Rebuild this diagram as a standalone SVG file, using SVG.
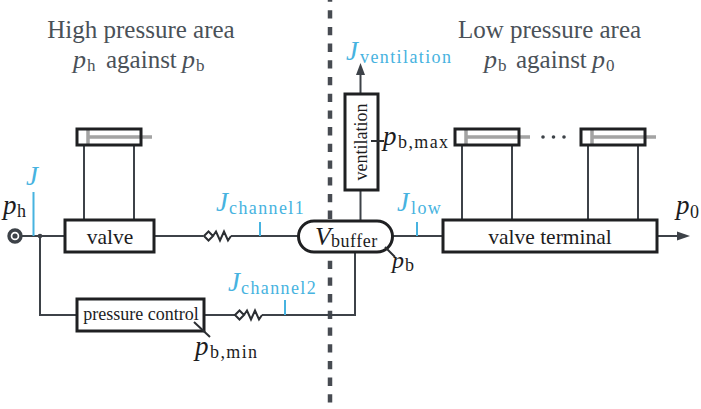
<svg xmlns="http://www.w3.org/2000/svg" width="701" height="409" viewBox="0 0 701 409">
<style>
text{font-family:"Liberation Serif","Times New Roman",serif;fill:#1c1c1e}
.head{font-size:25px;fill:#4a5158;text-anchor:middle}
.headm{font-size:26px;fill:#4a5158;font-style:italic}
.heads{font-size:17px;fill:#4a5158}
.heada{font-size:25px;fill:#4a5158}
.lab{font-size:21.500px}
.m{font-style:italic;font-size:27px}
.sub{font-size:18px;letter-spacing:1.400px}
.blue{fill:#47b3e0}
.box{fill:#fff;stroke:#1f2022;stroke-width:3}
.cyl{fill:none;stroke:#1f2022;stroke-width:3}
.line{fill:none;stroke:#3d4248;stroke-width:2}
.tick{fill:none;stroke:#47b3e0;stroke-width:2}
.rod{fill:none;stroke:#a3a3a3;stroke-width:3.500}
.spring{fill:none;stroke:#2c2f33;stroke-width:2}
.head-arrow{fill:#3d4248}
</style>
<defs>
<g id="cylinder">
<path class="rod" d="M11 0V16M11 8H75"/>
<rect class="cyl" x="0" y="0" width="64" height="16"/>
</g>
<path id="throttle" class="spring" d="M0 0L4.500 -4.500L9 0L4.500 4.500ZM9 0L12 -4.500L16 4.500L20 -4.500L24 4.500L27 0"/>
</defs>

<g id="divider"><line x1="330" y1="0" x2="330" y2="409" stroke="#474b52" stroke-width="4.500" stroke-dasharray="8.300 8.400" stroke-dashoffset="6.500"/></g>

<g id="connectors">
<path class="line" d="M22 236H65"/>
<path class="line" d="M154 236H203M231 236H298"/>
<path class="line" d="M40 236V315H77"/>
<path class="line" d="M204 315H235M262 315H355V253"/>
<path class="line" d="M393 236H443"/>
<path class="line" d="M360.500 190V221"/>
<path class="line" d="M360.500 94V70"/>
<polygon class="head-arrow" points="360.500,63 365,75 356,75"/>
<path class="line" d="M657 236H682"/>
<polygon class="head-arrow" points="690,236 677,231.500 677,240.500"/>
<path class="line" d="M84 145V220M134 145V220M462 145V220M512 145V220M588 145V220M638 145V220"/>
<use href="#throttle" x="204" y="236"/>
<use href="#throttle" x="235" y="315"/>
<path class="tick" d="M33.500 192V236M260 222V236M285 300V315M417 222V236"/>
<circle cx="40" cy="236" r="2.300" fill="#3d4248"/>
</g>

<g id="source"><circle cx="15" cy="236" r="6" fill="#fff" stroke="#3d4248" stroke-width="3.400"/><circle cx="15" cy="236" r="2.600" fill="#3d4248"/></g>

<g id="valve"><rect class="box" x="65" y="220" width="89" height="32"/><text x="110" y="244" class="lab" text-anchor="middle">valve</text></g>
<g id="valve-cylinder"><use href="#cylinder" x="77" y="129"/></g>
<g id="pressure-control"><rect class="box" x="77" y="299" width="127" height="32"/><text x="141" y="320" text-anchor="middle" style="font-size:18px">pressure control</text></g>
<g id="buffer"><rect class="box" x="298.500" y="221" width="94" height="31" rx="15.500"/><text x="315" y="245" class="m" style="font-size:26px">V</text><text x="331" y="247" style="font-size:18px;letter-spacing:0.500px">buffer</text></g>
<g id="ventilation"><rect class="box" x="345" y="94" width="33" height="96"/><text transform="translate(367 142) rotate(-90)" text-anchor="middle" style="font-size:18px">ventilation</text></g>
<g id="valve-terminal"><rect class="box" x="443" y="220" width="214" height="32"/><text x="550" y="244" class="lab" text-anchor="middle">valve terminal</text></g>
<g id="terminal-cylinder-1"><use href="#cylinder" x="455" y="129"/></g>
<g id="terminal-cylinder-2"><use href="#cylinder" x="581" y="129"/></g>
<g id="ellipsis" fill="#3d4248"><circle cx="543" cy="137" r="1.800"/><circle cx="553.500" cy="137" r="1.800"/><circle cx="564" cy="137" r="1.800"/></g>
<path class="spring" d="M194 322L210 337M385 247L395 257M371 141H384"/>

<text class="head" x="141" y="38">High pressure area</text>
<text x="73" y="68" class="headm">p</text><text x="87" y="71" class="heads">h</text><text x="106" y="68" class="heada">against</text><text x="182" y="68" class="headm">p</text><text x="196" y="71" class="heads">b</text>
<text class="head" x="549.500" y="38">Low pressure area</text>
<text x="484" y="68" class="headm">p</text><text x="498" y="71" class="heads">b</text><text x="516" y="68" class="heada">against</text><text x="592" y="68" class="headm">p</text><text x="606" y="71" class="heads">0</text>

<text x="3" y="214" class="m">p</text><text x="17" y="217" class="sub">h</text>
<text x="26" y="185" class="m blue">J</text>
<text x="216" y="211" class="m blue">J</text><text x="229" y="214" class="sub blue">channel1</text>
<text x="228" y="291" class="m blue">J</text><text x="241" y="294" class="sub blue">channel2</text>
<text x="397" y="211" class="m blue">J</text><text x="411" y="214" class="sub blue">low</text>
<text x="346" y="60" class="m blue">J</text><text x="360" y="63" class="sub blue">ventilation</text>
<text x="383" y="145" class="m">p</text><text x="398" y="148" class="sub">b,max</text>
<text x="195" y="355" class="m">p</text><text x="210" y="358" class="sub">b,min</text>
<text x="392" y="268" class="m" style="font-size:24px">p</text><text x="405" y="271" class="sub">b</text>
<text x="676" y="214" class="m">p</text><text x="690" y="218" class="sub">0</text>
</svg>
